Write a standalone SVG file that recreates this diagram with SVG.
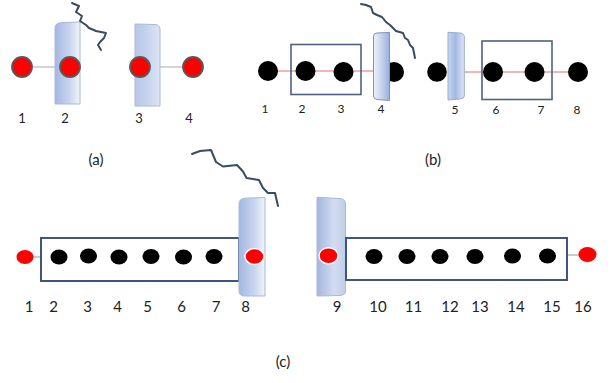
<svg xmlns="http://www.w3.org/2000/svg" width="614" height="383" viewBox="0 0 614 383">
<defs>
<linearGradient id="gL" x1="0" y1="0" x2="1" y2="0">
<stop offset="0" stop-color="#a3b7e0"/><stop offset="0.6" stop-color="#c9d6ef"/><stop offset="1" stop-color="#f2f5fb"/>
</linearGradient>
<linearGradient id="gR" x1="0" y1="0" x2="1" y2="0">
<stop offset="0" stop-color="#eef2fa"/><stop offset="0.5" stop-color="#c6d3ee"/><stop offset="1" stop-color="#98afdd"/>
</linearGradient>
<linearGradient id="gM" x1="0" y1="0" x2="1" y2="0">
<stop offset="0" stop-color="#c8d5ef"/><stop offset="0.45" stop-color="#a3b8e2"/><stop offset="1" stop-color="#dfe7f5"/>
</linearGradient>
<linearGradient id="gA3" x1="0" y1="0" x2="1" y2="0">
<stop offset="0" stop-color="#b9c8e8"/><stop offset="0.4" stop-color="#c2d0ec"/><stop offset="1" stop-color="#dde5f4"/>
</linearGradient>
<linearGradient id="g9" x1="0" y1="0" x2="1" y2="0">
<stop offset="0" stop-color="#a2b6df"/><stop offset="0.6" stop-color="#d3ddf1"/><stop offset="1" stop-color="#bfcde9"/>
</linearGradient>
</defs>
<style>
.red{fill:#ff0000;stroke:#555a60;stroke-width:1.8}
.redw{fill:#ff0000;stroke:#ffffff;stroke-width:1.5}
.red0{fill:#ff0000}
.blk{fill:#000000}
.box{fill:none;stroke:#4b6283;stroke-width:1.6}
.boxw{fill:#ffffff;stroke:#3f5678;stroke-width:2}
.wave{fill:none;stroke:#3b4a60;stroke-width:2;stroke-linejoin:round;stroke-linecap:round}
.bar{stroke:#a9b9d8;stroke-width:1}
.gl{stroke:#a4abb3;stroke-width:1.2}
.rl{stroke:#e07070;stroke-width:1.2}
text{font-family:Lato,"Liberation Sans",sans-serif;fill:#222;text-anchor:middle}
.la{font-size:13px}
.lb{font-size:12px}
.lc{font-size:15px}
.cap{font-size:15px}
</style>
<rect width="614" height="383" fill="#ffffff"/>

<g id="connectors">
<line class="gl" x1="22" y1="67" x2="55" y2="67"/>
<line class="gl" x1="140" y1="67" x2="193" y2="67"/>
<line class="rl" x1="268" y1="71" x2="374" y2="71"/>
<line class="rl" x1="464" y1="72" x2="578" y2="72"/>
<line class="gl" x1="25" y1="257" x2="41" y2="257"/>
<line class="gl" x1="567" y1="255" x2="587" y2="255"/>
</g>

<!-- (a) -->
<g id="a-node1"><circle class="red" cx="22" cy="67" r="10"/><text class="la" x="22" y="123">1</text></g>
<g id="a-barrier2"><path class="bar" fill="url(#gL)" d="M55,28 Q55,23 62,22.6 L80,22 L80,104 L55,104 Z"/></g>
<g id="a-node2"><circle class="red" cx="70" cy="67" r="10"/><text class="la" x="65" y="123">2</text></g>
<g id="a-barrier3"><path class="bar" fill="url(#gA3)" d="M135,24 L155,24.5 Q160,25 160,29 L160,106 L135,106 Z"/></g>
<g id="a-node3"><circle class="red" cx="140" cy="67" r="10"/><text class="la" x="139" y="123">3</text></g>
<g id="a-node4"><circle class="red" cx="193" cy="67" r="10"/><text class="la" x="189" y="123">4</text></g>
<g id="a-wave"><polyline class="wave" points="72,3 79,6 76,12 82,16 80,21 86,25 89,28 96,31 106,33 104,38 100,42 98,45 101,50"/></g>
<text class="cap" x="96" y="165">(a)</text>

<!-- (b) -->
<g id="b-node1"><circle class="blk" cx="268" cy="71" r="10"/><text class="lb" x="265" y="113">1</text></g>
<g id="b-box1"><rect class="box" x="291" y="44.5" width="70" height="50"/></g>
<g id="b-node2"><circle class="blk" cx="305.5" cy="71" r="10"/><text class="lb" x="302" y="113">2</text></g>
<g id="b-node3"><circle class="blk" cx="343.5" cy="72" r="10"/><text class="lb" x="341" y="113">3</text></g>
<g id="b-node4"><circle class="blk" cx="394" cy="72" r="10"/><text class="lb" x="381" y="113">4</text></g>
<g id="b-barrier4"><path stroke="#8193b6" stroke-width="1" fill="url(#gR)" d="M373.5,36 Q373.5,33.3 377,33 L389.5,32.5 L389.5,100.5 L377,99.5 Q373.5,99 373.5,96 Z"/></g>
<g id="b-wave"><polyline class="wave" points="361,4 366,5 371,7 373,13 377,15 382,17 386,22 390,25 396,31 403,33 405,38 408,40 410,45 413,48 415,58"/></g>
<g id="b-node5"><circle class="blk" cx="437" cy="72" r="9.8"/><text class="lb" x="455" y="114">5</text></g>
<g id="b-barrier5"><path stroke="#9badd0" stroke-width="1" fill="url(#gM)" d="M448,32.3 L460,33 Q464.3,33.5 464.3,37 L464.3,96 Q464.3,98.5 460,99 L448,100 Z"/></g>
<g id="b-box2"><rect class="box" x="482" y="41" width="70" height="58.5"/></g>
<g id="b-node6"><circle class="blk" cx="493" cy="72" r="10"/><text class="lb" x="496" y="114">6</text></g>
<g id="b-node7"><circle class="blk" cx="534.5" cy="72" r="10"/><text class="lb" x="541" y="114">7</text></g>
<g id="b-node8"><circle class="blk" cx="578" cy="72" r="10"/><text class="lb" x="577" y="114">8</text></g>
<text class="cap" x="433" y="165">(b)</text>

<!-- (c) -->
<g id="c-node1"><ellipse class="red0" cx="25" cy="257" rx="8.5" ry="7"/><text class="lc" x="29" y="312">1</text></g>
<g id="c-box1"><rect class="boxw" x="41" y="238" width="198" height="43"/></g>
<g id="c-node2"><ellipse class="blk" cx="59" cy="257" rx="8.5" ry="7.5"/><text class="lc" x="53.5" y="312">2</text></g>
<g id="c-node3"><ellipse class="blk" cx="88.5" cy="256" rx="8.5" ry="7.5"/><text class="lc" x="87.5" y="312">3</text></g>
<g id="c-node4"><ellipse class="blk" cx="119" cy="257" rx="8.5" ry="7.5"/><text class="lc" x="117.5" y="312">4</text></g>
<g id="c-node5"><ellipse class="blk" cx="151" cy="256.5" rx="8.5" ry="7.5"/><text class="lc" x="147.5" y="312">5</text></g>
<g id="c-node6"><ellipse class="blk" cx="183.5" cy="257" rx="8.5" ry="7.5"/><text class="lc" x="181.5" y="312">6</text></g>
<g id="c-node7"><ellipse class="blk" cx="214" cy="256.5" rx="8.5" ry="7.5"/><text class="lc" x="216" y="312">7</text></g>
<g id="c-barrier8"><path class="bar" fill="url(#gL)" d="M239,204 Q239,198.5 245,198.2 L265,197.5 L265,296 L245,296 Q239,296 239,291 Z"/></g>
<g id="c-node8"><ellipse class="redw" cx="254.5" cy="256.5" rx="9.5" ry="8"/><text class="lc" x="245.5" y="312">8</text></g>
<g id="c-wave"><polyline class="wave" points="192,154 200,151 211,150 216,162 223,166.5 237,165 243,171.5 246.5,178 259,180 263,188 268,193 275,193 278,206"/></g>
<g id="c-barrier9"><path class="bar" fill="url(#g9)" d="M317,197.3 L340,198.5 Q345.5,199 345.5,204 L345.5,291 Q345.5,295 340,295.5 L317,296 Z"/></g>
<g id="c-node9"><ellipse class="redw" cx="328.5" cy="255.7" rx="9.5" ry="8"/><text class="lc" x="337" y="312">9</text></g>
<g id="c-box2"><rect class="boxw" x="346" y="238" width="221" height="42"/></g>
<g id="c-node10"><ellipse class="blk" cx="374" cy="256.5" rx="8.5" ry="7.5"/><text class="lc" x="378" y="312">10</text></g>
<g id="c-node11"><ellipse class="blk" cx="407" cy="256.5" rx="8.5" ry="7.5"/><text class="lc" x="413.5" y="312">11</text></g>
<g id="c-node12"><ellipse class="blk" cx="440" cy="256.5" rx="8.5" ry="7.5"/><text class="lc" x="450" y="312">12</text></g>
<g id="c-node13"><ellipse class="blk" cx="475" cy="256.5" rx="8.5" ry="7.5"/><text class="lc" x="480" y="312">13</text></g>
<g id="c-node14"><ellipse class="blk" cx="512.5" cy="256" rx="8.5" ry="7.5"/><text class="lc" x="516" y="312">14</text></g>
<g id="c-node15"><ellipse class="blk" cx="547.5" cy="256" rx="8.5" ry="7.5"/><text class="lc" x="552" y="312">15</text></g>
<g id="c-node16"><ellipse class="red0" cx="587.5" cy="254.5" rx="9" ry="7.5"/><text class="lc" x="583" y="312">16</text></g>
<text class="cap" x="283" y="367">(c)</text>
</svg>
